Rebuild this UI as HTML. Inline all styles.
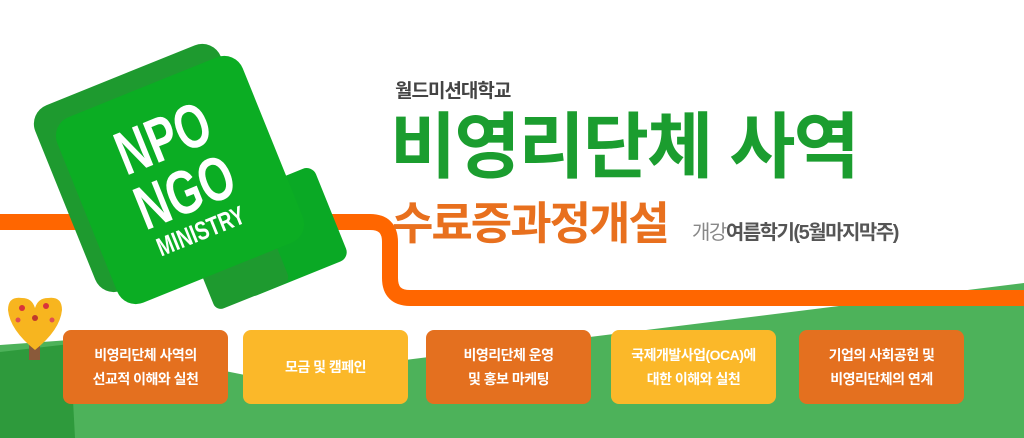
<!DOCTYPE html>
<html><head><meta charset="utf-8"><style>
body{margin:0;width:1024px;height:438px;overflow:hidden;background:#fff;position:relative;font-family:"Liberation Sans","Noto Sans CJK KR",sans-serif}
.a{position:absolute;white-space:nowrap}
.box{position:absolute;top:330px;width:165px;height:74px;border-radius:8px;color:#fff;font-size:14px;font-weight:bold;display:flex;align-items:center;justify-content:center;text-align:center;line-height:24px;letter-spacing:-0.5px}
.o{background:#e4701f}.y{background:#fbb829}
</style></head><body>
<svg class="a" style="left:0;top:0" width="1024" height="438">
<polygon points="0,345 70,340 260,378 1024,283 1024,438 0,438" fill="#4db25a"/>
<polygon points="0,352 70,344 75,438 0,438" fill="#2e9a3c"/>
<path d="M0,222 H370 Q390,222 390,242 V278 Q390,298 410,298 H1024" fill="none" stroke="#ff6600" stroke-width="16"/>
<g transform="translate(158,168) rotate(-22)">
<rect x="-100" y="-100" width="200" height="200" rx="20" fill="#1e9a2f"/>
</g>
<g transform="translate(280,232) rotate(-22)">
<rect x="-55" y="-50" width="110" height="100" rx="10" fill="#0aa925"/>
</g>
<g transform="translate(245,262) rotate(-22)">
<rect x="-45" y="-35" width="80" height="70" rx="8" fill="#1e9a2f"/>
</g>
<g transform="translate(180,180) rotate(-22)">
<rect x="-100" y="-100" width="200" height="200" rx="20" fill="#0bad23"/>
<g font-family="Liberation Sans Narrow,Liberation Sans,sans-serif" font-weight="bold" fill="#fff" text-anchor="middle">
<text x="0" y="-24" font-size="62" transform="scale(0.72,1)">NPO</text>
<text x="0" y="34" font-size="62" transform="scale(0.72,1)">NGO</text>
<text x="0" y="64" font-size="26" transform="scale(0.75,1)">MINISTRY</text>
</g>
</g>
<rect x="29" y="315" width="11" height="45" fill="#8a5a3a"/>
<path d="M35,350 Q10,330 8,310 Q8,296 22,298 Q32,298 35,308 Q38,298 48,298 Q62,296 62,310 Q60,330 35,350Z" fill="#f7b51f"/>
<circle cx="22" cy="308" r="3" fill="#d9333a"/><circle cx="46" cy="306" r="3" fill="#d9333a"/><circle cx="35" cy="318" r="3" fill="#c0392b"/><circle cx="18" cy="320" r="2.5" fill="#e05050"/><circle cx="52" cy="320" r="2.5" fill="#e05050"/>
</svg>
<div class="a" style="left:395px;top:76px;font-size:19px;font-weight:bold;color:#444;letter-spacing:-1px">월드미션대학교</div>
<div class="a" style="left:390px;top:103px;font-size:72px;font-weight:bold;color:#1b9d2f;letter-spacing:-2px;line-height:90px">비영리단체 사역</div>
<div class="a" style="left:392px;top:196px;font-size:45px;font-weight:bold;color:#e8701e;letter-spacing:-2px;line-height:56px">수료증과정개설</div>
<div class="a" style="left:692px;top:216px;font-size:20px;color:#555;letter-spacing:-1.5px"><span style="color:#888">개강</span><b>여름학기(5월마지막주)</b></div>
<div class="box o" style="left:63px">비영리단체 사역의<br>선교적 이해와 실천</div>
<div class="box y" style="left:243px">모금 및 캠페인</div>
<div class="box o" style="left:426px">비영리단체 운영<br>및 홍보 마케팅</div>
<div class="box y" style="left:611px">국제개발사업(OCA)에<br>대한 이해와 실천</div>
<div class="box o" style="left:799px">기업의 사회공헌 및<br>비영리단체의 연계</div>
</body></html>
